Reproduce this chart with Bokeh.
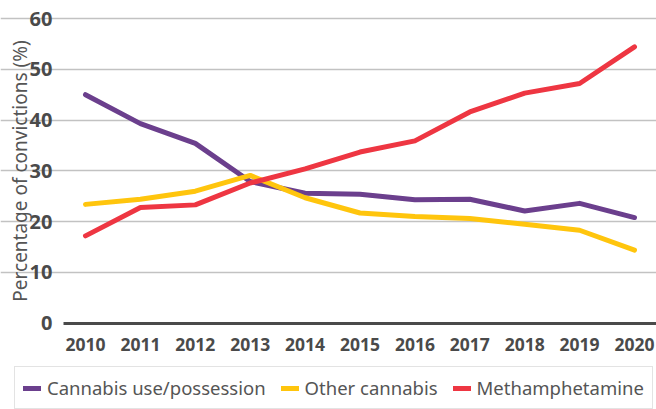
from bokeh.plotting import figure
from bokeh.models import Range1d, Legend, LegendItem, FixedTicker, ColumnDataSource
from bokeh.embed import file_html
from bokeh.resources import INLINE

years = [2010, 2011, 2012, 2013, 2014, 2015, 2016, 2017, 2018, 2019, 2020]
cannabis_use = [45.0, 39.3, 35.4, 27.9, 25.6, 25.4, 24.3, 24.4, 22.1, 23.6, 20.8]
other_cannabis = [23.4, 24.4, 26.0, 29.1, 24.7, 21.7, 21.0, 20.6, 19.5, 18.3, 14.4]
meth = [17.2, 22.8, 23.3, 27.6, 30.4, 33.7, 35.9, 41.6, 45.3, 47.2, 54.4]
y_ticks = [0, 10, 20, 30, 40, 50, 60]
series_names = ["Cannabis use/possession", "Other cannabis", "Methamphetamine"]
series_colors = ["#6b3f8d", "#ffc50d", "#ee3642"]

# ---- layout (pixels in the figure) ----
W, H = 656, 409
x_first_px, x_last_px = 85, 634       # where first / last year sit
axis_left_px = 63                     # start of the plotting area
y_top_px, y_zero_px = 18, 322.7       # where 60 and 0 sit (from the top)

px_per_year = (x_last_px - x_first_px) / (years[-1] - years[0])
x0 = years[0] - x_first_px / px_per_year
x1 = years[0] + (W - x_first_px) / px_per_year
x_axis_start = years[0] - (x_first_px - axis_left_px) / px_per_year
ymax = y_ticks[-1]
px_per_unit = (y_zero_px - y_top_px) / ymax
y1 = ymax + y_top_px / px_per_unit
y0 = -(H - y_zero_px) / px_per_unit

FONT = "Noto Sans"
GREY = "#4a4a4a"

p = figure(width=W, height=H, output_backend="svg", toolbar_location=None,
           x_range=Range1d(x0, x1), y_range=Range1d(y0, y1),
           min_border_left=0, min_border_right=0, min_border_top=0, min_border_bottom=0)
p.outline_line_color = None
p.background_fill_color = "white"
p.border_fill_color = "white"

items = []
for name, vals, col in zip(series_names, [cannabis_use, other_cannabis, meth], series_colors):
    src = ColumnDataSource(dict(x=years, y=vals))
    r = p.line("x", "y", source=src, line_color=col, line_width=5, line_cap="round", line_join="round")
    items.append(LegendItem(label=name, renderers=[r]))

p.xgrid.grid_line_color = None
p.ygrid.grid_line_color = "#c2c2c2"
p.ygrid.grid_line_width = 1.3
p.ygrid.ticker = FixedTicker(ticks=y_ticks[1:])
p.ygrid.bounds = (x_axis_start, x1)

p.xaxis.fixed_location = 0
p.xaxis.bounds = (x_axis_start, x1)
p.xaxis.ticker = FixedTicker(ticks=years)
p.xaxis.axis_line_color = GREY
p.xaxis.axis_line_width = 3
p.xaxis.major_tick_line_color = None
p.xaxis.minor_tick_line_color = None
p.xaxis.major_label_text_font = FONT
p.xaxis.major_label_text_font_style = "bold"
p.xaxis.major_label_text_font_size = "17.5px"
p.xaxis.major_label_text_color = GREY
p.xaxis.major_label_standoff = 9

p.yaxis.fixed_location = x_axis_start
p.yaxis.bounds = (0, ymax)
p.yaxis.ticker = FixedTicker(ticks=y_ticks)
p.yaxis.axis_line_color = None
p.yaxis.major_tick_line_color = None
p.yaxis.minor_tick_line_color = None
p.yaxis.major_label_text_font = FONT
p.yaxis.major_label_text_font_style = "bold"
p.yaxis.major_label_text_font_size = "20px"
p.yaxis.major_label_text_color = GREY
p.yaxis.major_label_standoff = 5
p.yaxis.axis_label = "Percentage of convictions (%)"
p.yaxis.axis_label_text_font = FONT
p.yaxis.axis_label_text_font_style = "normal"
p.yaxis.axis_label_text_font_size = "19px"
p.yaxis.axis_label_text_color = "#555555"
p.yaxis.axis_label_standoff = -6

legend = Legend(items=items, orientation="horizontal", location=(14, 0),
                label_text_font=FONT, label_text_font_size="18.5px", label_text_color="#555555",
                glyph_width=18, glyph_height=8, label_standoff=6, spacing=15,
                border_line_color="#c8c8c8", border_line_width=1.5,
                background_fill_alpha=1.0, padding=8, margin=0)
p.add_layout(legend)

open("out.html", "w").write(file_html(p, INLINE))
